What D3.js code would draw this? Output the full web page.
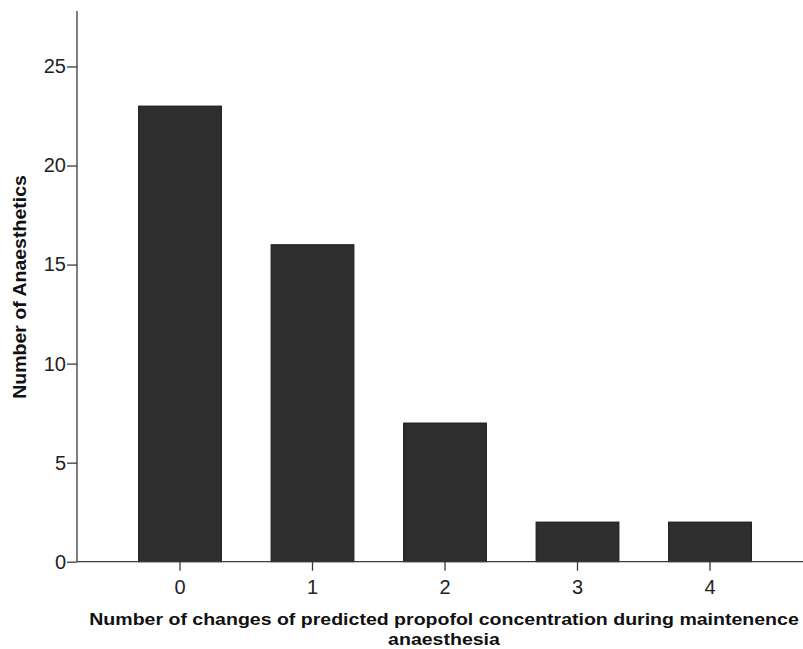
<!DOCTYPE html>
<html>
<head>
<meta charset="utf-8">
<script src="https://cdn.jsdelivr.net/npm/d3@7"></script>
<style>
  html, body { margin: 0; padding: 0; background: #fff; }
  svg { display: block; }
</style>
</head>
<body>
<svg id="chart" width="803" height="649"></svg>
<script>
const categories = ["0", "1", "2", "3", "4"];
const counts = [23, 16, 7, 2, 2];
const yTicks = [0, 5, 10, 15, 20, 25];
const yMax = 27.8;
const xTitleLines = ["Number of changes of predicted propofol concentration during maintenence", "anaesthesia"];
const yTitle = "Number of Anaesthetics";

const svg = d3.select("#chart");
const font = "'Liberation Sans', Arial, sans-serif";
const axisColor = "#3a3a3a";

const x0 = 77, xEnd = 803, yBase = 561.7, yTop = 11;

const x = d3.scaleBand()
  .domain(categories)
  .range([113.75, 776.25])
  .paddingInner(0.375)
  .paddingOuter(0.1875);

const y = d3.scaleLinear().domain([0, yMax]).range([yBase, yTop]);

// bars
svg.append("g").selectAll("rect")
  .data(categories.map((c, i) => ({ c, v: counts[i] })))
  .join("rect")
  .attr("x", d => x(d.c))
  .attr("y", d => y(d.v))
  .attr("width", x.bandwidth())
  .attr("height", d => y(0) - y(d.v))
  .attr("fill", "#2e2e2e")
  .attr("stroke", "#1a1a1a")
  .attr("stroke-width", 1);

// y axis
const yAxis = d3.axisLeft(y).tickValues(yTicks).tickSize(10).tickPadding(1).tickFormat(d3.format("d"));
const gy = svg.append("g").attr("transform", `translate(${x0},0)`).call(yAxis);
gy.select(".domain").attr("d", `M0,${yTop}V${yBase}`).attr("stroke", axisColor).attr("stroke-width", 1.3);
gy.selectAll(".tick line").attr("stroke", axisColor).attr("stroke-width", 1.3);
gy.selectAll(".tick text").attr("font-family", font).attr("font-size", 20).attr("fill", "#222");

// x axis
const xAxis = d3.axisBottom(x).tickSize(9).tickPadding(9);
const gx = svg.append("g").attr("transform", `translate(0,${yBase})`).call(xAxis);
gx.select(".domain").attr("d", `M${x0},0H${xEnd}`).attr("stroke", axisColor).attr("stroke-width", 1.3);
gx.selectAll(".tick line").attr("stroke", axisColor).attr("stroke-width", 1.3);
gx.selectAll(".tick text").attr("font-family", font).attr("font-size", 20).attr("fill", "#222");

// x title (two separate lines)
svg.append("g").selectAll("text").data(xTitleLines).join("text")
  .attr("transform", (d, i) => `translate(444,${624.5 + i * 20}) scale(1.15,1)`)
  .attr("font-family", font).attr("font-size", 17).attr("font-weight", "bold")
  .attr("fill", "#111").attr("text-anchor", "middle")
  .text(d => d);

// y title
svg.append("text")
  .attr("font-family", font).attr("font-size", 18).attr("font-weight", "bold")
  .attr("fill", "#111").attr("text-anchor", "middle")
  .attr("transform", "translate(26,287) rotate(-90) scale(1.085,1)")
  .text(yTitle);
</script>
</body>
</html>
